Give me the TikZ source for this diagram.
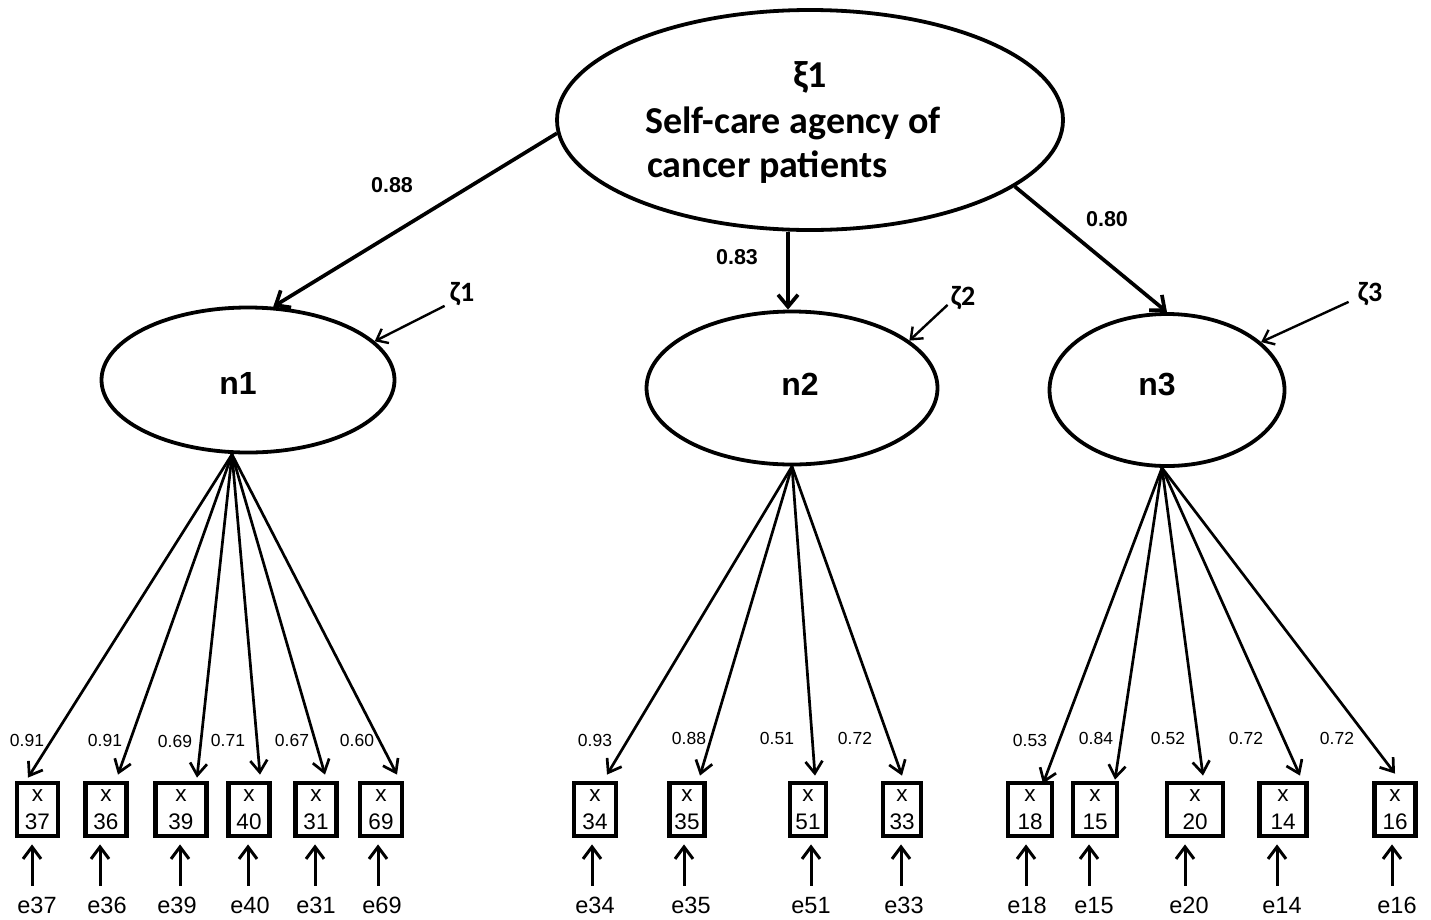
\documentclass[tikz,border=0pt]{standalone}
\usepackage{fontspec}
\setmainfont{Liberation Sans}
\newfontfamily\calfont{Carlito}
\usetikzlibrary{shapes.geometric,arrows.meta}
\begin{document}
\begin{tikzpicture}[x=1pt,y=-1pt,
  lat/.style={draw, ellipse, line width=3.8pt, inner sep=0pt},
  obs/.style={draw, rectangle, line width=4.8pt, minimum height=53pt, inner sep=0pt, align=center, font=\fontsize{22.5}{28}\selectfont},
  toptext/.style={inner sep=0pt, font=\calfont\bfseries\fontsize{38}{45}\selectfont},
  nlab/.style={inner sep=0pt, font=\bfseries\fontsize{32}{36}\selectfont},
  blab/.style={inner sep=0pt, font=\bfseries\fontsize{21.5}{25}\selectfont},
  zlab/.style={inner sep=0pt, font=\calfont\bfseries\fontsize{28}{32}\selectfont},
  llab/.style={inner sep=0pt, text height=12.5pt, text depth=0pt, font=\fontsize{17.5}{20}\selectfont},
  elab/.style={inner sep=0pt, text height=17pt, text depth=0pt, font=\fontsize{23.5}{27}\selectfont},
  struct/.style={line width=3.7pt, -{Straight Barb[length=12pt,width=20pt]}},
  load/.style={line width=2.7pt, -{Straight Barb[length=12pt,width=17pt]}},
  err/.style={line width=3pt, -{Straight Barb[length=12pt,width=18pt]}, shorten <=10pt, shorten >=6pt},
  zarr/.style={line width=2.4pt, -{Straight Barb[length=10pt,width=16pt]}}
]
\useasboundingbox[fill=white] (0,0) rectangle (1431,919);

% latent variables
\node[lat, minimum width=506pt, minimum height=220pt] (xi) at (810,120) {};
\node[toptext, anchor=base] (xil1) at (810,87) {ξ1};
\node[toptext, anchor=base west] (xil2) at (645,133) {Self-care agency of};
\node[toptext, anchor=base west] (xil3) at (647,177) {cancer patients};

\node[lat, minimum width=293pt, minimum height=145pt] (n1) at (248,380) {};
\node[lat, minimum width=291pt, minimum height=153pt] (n2) at (792,388) {};
\node[lat, minimum width=235pt, minimum height=152pt] (n3) at (1167,390) {};
\node[nlab] (n1t) at (238,383) {n1};
\node[nlab] (n2t) at (800,384) {n2};
\node[nlab] (n3t) at (1157,384) {n3};

% structural paths
\draw[struct] (xi.183.4) -- (n1.71);
\draw[struct] ([xshift=-4pt]n2.north |- xi.south) -- ([xshift=-4pt]n2.north);
\draw[struct] (xi.342) -- (n3.north);
\node[blab] (l1) at (392,185) {0.88};
\node[blab] (l2) at (737,257) {0.83};
\node[blab] (l3) at (1107,219) {0.80};

% disturbances
\node[zlab] (z1) at (462,294) {ζ1};
\node[zlab] (z2) at (963,298) {ζ2};
\node[zlab] (z3) at (1370,294) {ζ3};
\draw[zarr] ([shift={(-5,0)}]z1.south west) -- (n1.17);
\draw[zarr] ([shift={(-3,-5)}]z2.south west) -- (n2.22);
\draw[zarr] ([shift={(-9,-4)}]z3.south west) -- (n3.27);

% sources of loadings
\coordinate (s1) at ([xshift=-16pt]n1.south);
\coordinate (s2) at (n2.south);
\coordinate (s3) at ([xshift=-5pt]n3.south);

% indicators
\foreach \id/\bx/\bw/\tx/\ty/\ax/\ex/\src/\lab/\lx/\ly in {
  37/37.5/41/28/780/32/37/s1/0.91/27/740,
  36/106/41/118/777/100/107/s1/0.91/105/740,
  39/181/51/197/780/180/177/s1/0.69/175/741,
  40/249/41/260/777/248/250/s1/0.71/228/740,
  31/316/41/325/777/315/316/s1/0.67/292/740,
  69/381/42/397/777/378/382/s1/0.60/357/740,
  34/595/42/607/777/592/595/s2/0.93/595/740,
  35/687/35/700/778/684/691/s2/0.88/689/738,
  51/808/36/815/778/811/811/s2/0.51/777/738,
  33/902/38/902/778/901/904/s2/0.72/855/738,
  18/1030/44/1043/786/1026/1027/s3/0.53/1030/740,
  15/1095/44/1115/782/1089/1094/s3/0.84/1096/738,
  20/1195/56/1203/778/1185/1189/s3/0.52/1168/738,
  14/1283/47/1300/778/1277/1282/s3/0.72/1246/738,
  16/1395/41/1395/776/1392/1397/s3/0.72/1337/738}{
  \node[obs, minimum width=\bw pt] (b\id) at (\bx,809.5) {x\\\id};
  \node[elab] (e\id) at (\ex,904.5) {e\id};
  \node[llab] (ll\id) at (\lx,\ly) {\lab};
  \draw[load] (\src) -- ([shift={(\tx-\bx,\ty-783)}]b\id.north);
  \draw[err] ([xshift={(\ax-\ex)*1pt}]e\id.north) -- ([xshift={(\ax-\bx)*1pt}]b\id.south);
}
\end{tikzpicture}
\end{document}
